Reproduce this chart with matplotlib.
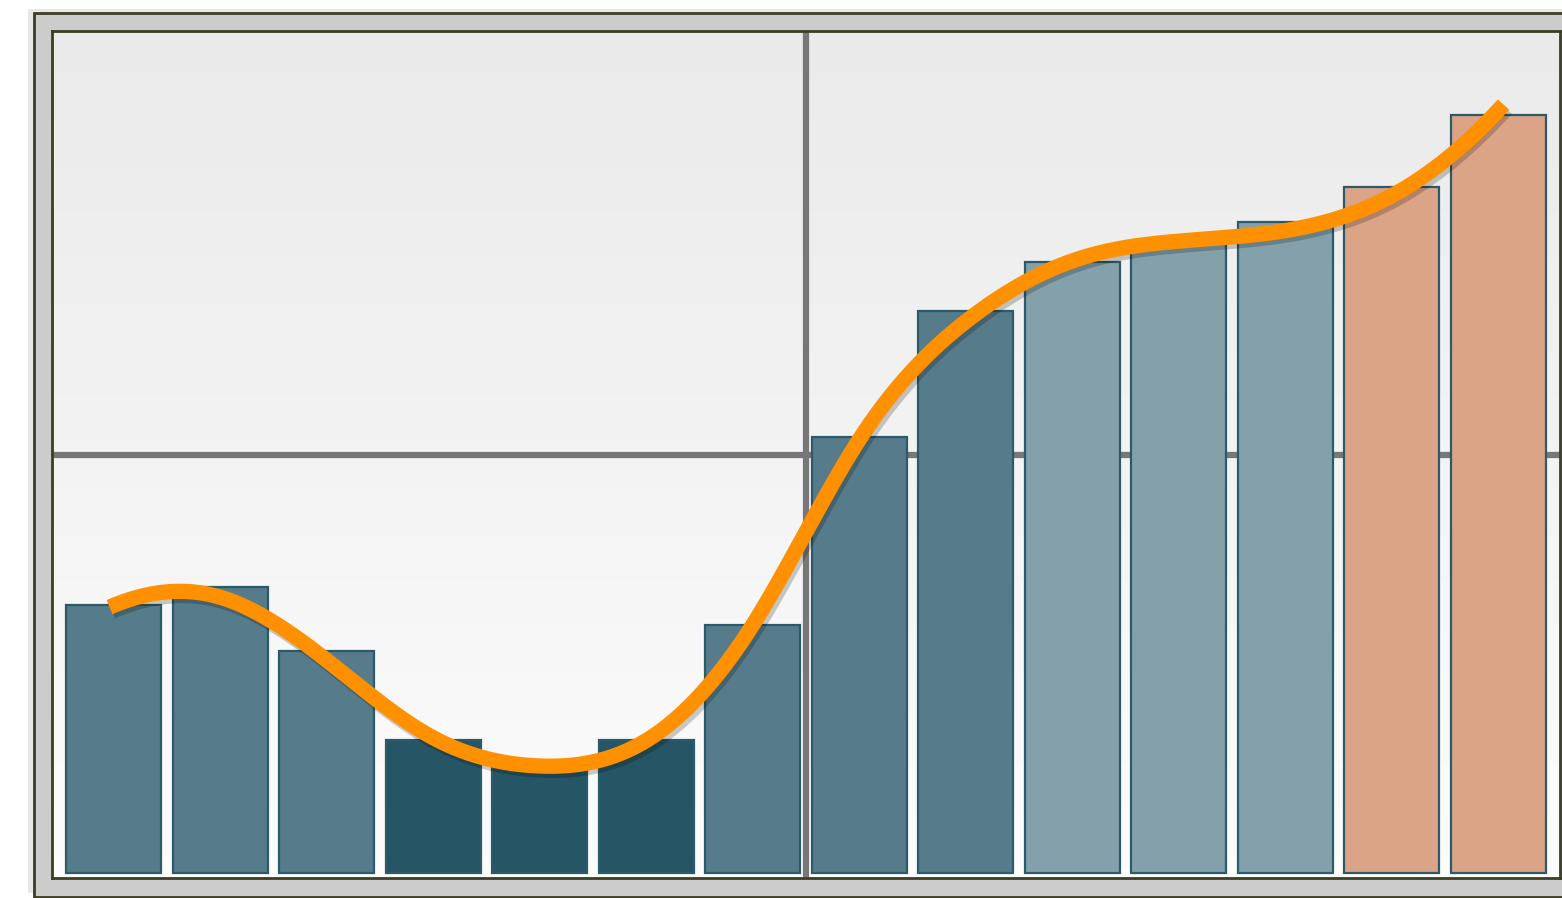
import numpy as np
import matplotlib.pyplot as plt
import matplotlib.patheffects as pe
from matplotlib.patches import Rectangle

# bar heights
values = [32.0, 34.2, 26.6, 15.9, 12.8, 15.9, 29.7, 52.2, 67.2, 73.1, 75.6, 77.9, 82.1, 90.7]
# smoothed trend line values
trend = [31.8, 33.1, 25.7, 16.3, 12.8, 15.8, 29.7, 52.0, 66.1, 73.3, 75.6, 76.9, 81.3, 91.9]
positions = np.arange(len(values))

mid, dark, light, salmon = '#567b8a', '#265665', '#84a1ab', '#dba486'
bar_colors = [mid, mid, mid, dark, dark, dark, mid, mid, mid,
              light, light, light, salmon, salmon]


def clamped_spline(x, y, s0, s1, n=800):
    x = np.asarray(x, float)
    y = np.asarray(y, float)
    k = len(x)
    h = np.diff(x)
    A = np.zeros((k, k))
    r = np.zeros(k)
    A[0, 0], A[0, 1] = 2 * h[0], h[0]
    r[0] = 6 * ((y[1] - y[0]) / h[0] - s0)
    A[-1, -2], A[-1, -1] = h[-1], 2 * h[-1]
    r[-1] = 6 * (s1 - (y[-1] - y[-2]) / h[-1])
    for i in range(1, k - 1):
        A[i, i - 1] = h[i - 1]
        A[i, i] = 2 * (h[i - 1] + h[i])
        A[i, i + 1] = h[i]
        r[i] = 6 * ((y[i + 1] - y[i]) / h[i] - (y[i] - y[i - 1]) / h[i - 1])
    M = np.linalg.solve(A, r)
    xs = np.linspace(x[0], x[-1], n)
    i = np.clip(np.searchsorted(x, xs) - 1, 0, k - 2)
    hi = h[i]
    a = x[i + 1] - xs
    b = xs - x[i]
    ys = (M[i] * a ** 3 + M[i + 1] * b ** 3) / (6 * hi) \
        + (y[i] / hi - M[i] * hi / 6) * a + (y[i + 1] / hi - M[i + 1] * hi / 6) * b
    return xs, ys


W, H = 1562, 898
fig = plt.figure(figsize=(W / 100, H / 100), dpi=100)
fig.patch.set_facecolor('white')

# outer grey frame, in its own background axes
bg = fig.add_axes([0, 0, 1, 1], zorder=-1)
bg.set_xlim(0, W)
bg.set_ylim(H, 0)
bg.axis('off')
frame = Rectangle((34, 13), W - 34 + 10, 897 - 13, facecolor='#cccccc',
                  edgecolor='#3d3d22', linewidth=2)
frame.set_path_effects([pe.SimplePatchShadow(offset=(-4, 3), alpha=0.12), pe.Normal()])
bg.add_patch(frame)

ax = fig.add_axes([52 / W, (H - 878) / H, (1560 - 52) / W, (878 - 31) / H], zorder=1)

# gradient background
grad = np.linspace(0, 1, 256).reshape(-1, 1)
top = np.array([0.918, 0.918, 0.918])
bot = np.array([0.99, 0.99, 0.99])
img = top + (bot - top) * grad[:, :, None] * np.ones((1, 1, 3))
ax.imshow(img, extent=[0, 1, 0, 1], transform=ax.transAxes, aspect='auto',
          zorder=0, interpolation='bilinear')
ax.set_xlim(-0.58, 13.58)
ax.set_ylim(-0.6, 100.7)

ax.set_xticks([6.5])
ax.set_yticks([50])
ax.tick_params(length=0, labelbottom=False, labelleft=False)
ax.grid(True, color='#777777', linewidth=4.5, zorder=1)
ax.set_axisbelow(True)

for s in ax.spines.values():
    s.set_color('#3d3d22')
    s.set_linewidth(2)

ax.bar(positions, values, width=0.89, color=bar_colors, edgecolor='#2b5a6a',
       linewidth=1.6, zorder=2)

# the line sits on a slightly wider x span than the bars
line_pos = np.linspace(-0.04, 13.05, len(trend))
xs, ys = clamped_spline(line_pos, trend, 5.5, 14.0)
ax.plot(xs, ys, color='#ff9100', linewidth=11, solid_capstyle='butt', zorder=3,
        path_effects=[pe.SimpleLineShadow(offset=(2, -3), shadow_color='black', alpha=0.2),
                      pe.Normal()])

fig.savefig('out.png', dpi=100)
